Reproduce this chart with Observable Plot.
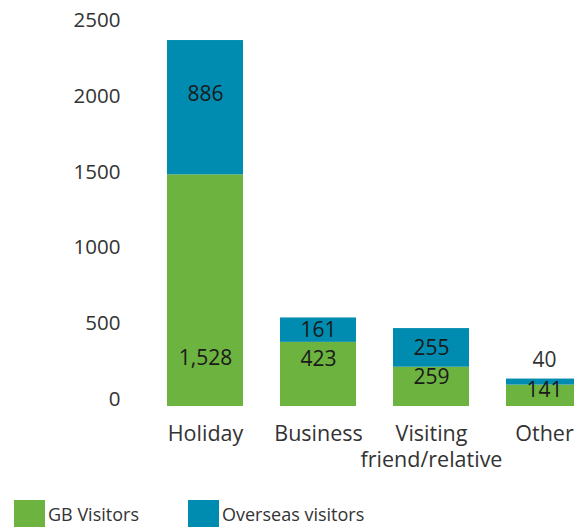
<!DOCTYPE html>
<html>
<head>
<meta charset="utf-8">
<script src="https://cdn.jsdelivr.net/npm/d3@7"></script>
<script src="https://cdn.jsdelivr.net/npm/@observablehq/plot@0.6"></script>
<style>
  html, body { margin: 0; padding: 0; background: #fff; overflow: hidden; }
  #wrap { position: relative; width: 574px; height: 527px; overflow: hidden; font-family: "Open Sans", sans-serif; }
  #chart { position: absolute; left: 0; top: 0; width: 620px; }
  #chart svg { max-width: none !important; }
  .legend { position: absolute; top: 500px; display: flex; align-items: center; font-size: 18px; color: #333; }
  .sw { width: 31px; height: 27px; margin-right: 3px; }
</style>
</head>
<body>
<div id="wrap">
  <div id="chart"></div>
  <div class="legend" style="left:14px"><div class="sw" style="background:#6db33f"></div>GB Visitors</div>
  <div class="legend" style="left:188px"><div class="sw" style="background:#008cb0"></div>Overseas visitors</div>
</div>
<script>
const categories = ["Holiday", "Business", "Visiting\nfriend/relative", "Other"];
const gbVisitors = [1528, 423, 259, 141];
const overseasVisitors = [886, 161, 255, 40];
const yTicks = [0, 500, 1000, 1500, 2000, 2500];

const GREEN = "#6db33f", BLUE = "#008cb0";

const rows = [];
categories.forEach((c, i) => {
  const g = gbVisitors[i], o = overseasVisitors[i];
  rows.push({cat: c, series: "GB", value: g, y1: 0, y2: g, ly: Math.min(g * 0.74, 315), above: false});
  rows.push({cat: c, series: "Overseas", value: o, y1: g, y2: g + o, ly: g + o - Math.min(o / 2, 356), above: o < 60});
});

const fmt = d3.format(",");

const chart = Plot.plot({
  width: 620,
  height: 498,
  marginLeft: 129,
  marginRight: 0,
  marginTop: 27,
  marginBottom: 92,
  style: {fontFamily: "Open Sans, sans-serif", fontSize: "20px", color: "#333", background: "transparent", maxWidth: "none"},
  x: {domain: categories, padding: 0.33, label: null, tickSize: 0, tickPadding: 16},
  y: {domain: [0, 2500], ticks: yTicks, label: null, tickSize: 0, tickPadding: 9},
  marks: [
    Plot.axisY({ticks: yTicks, tickFormat: d3.format("d"), tickSize: 0, tickPadding: 9, dy: -7, fontSize: 20.5, label: null, fill: "#333"}),
    Plot.axisX({tickSize: 0, tickPadding: 15, fontSize: 21.5, label: null, lineHeight: 1.25, fill: "#333"}),
    Plot.rectY(rows, {x: "cat", y1: "y1", y2: "y2", fill: d => d.series === "GB" ? GREEN : BLUE}),
    Plot.text(rows.filter(d => !d.above), {x: "cat", y: "ly", text: d => fmt(d.value), fontSize: 21, fill: "#1a1a1a"}),
    Plot.text(rows.filter(d => d.above), {x: "cat", y: "y2", text: d => fmt(d.value), fontSize: 21, fill: "#333", dy: -19})
  ]
});
document.getElementById("chart").appendChild(chart);
</script>
</body>
</html>
